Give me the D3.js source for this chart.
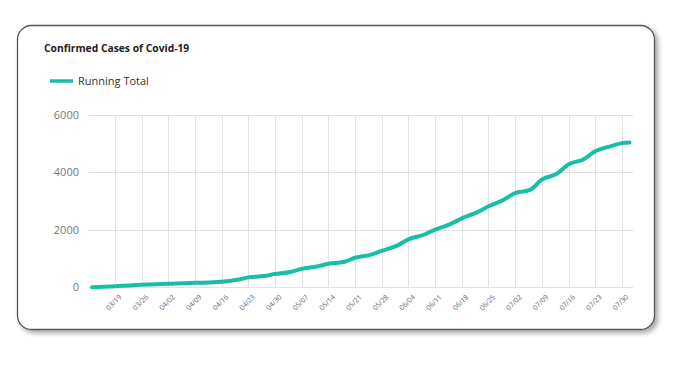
<!DOCTYPE html>
<html><head><meta charset="utf-8">
<script src="https://cdn.jsdelivr.net/npm/d3@7"></script>
<style>html,body{margin:0;padding:0;background:#fff;}svg{display:block;}</style>
</head><body>
<svg id="c" width="693" height="365"></svg>
<script>
const title = "Confirmed Cases of Covid-19";
const seriesName = "Running Total";
const dates = ["2020-03-13","2020-03-16","2020-03-19","2020-03-23","2020-03-26","2020-03-30","2020-04-02","2020-04-06","2020-04-09","2020-04-13","2020-04-16","2020-04-20","2020-04-23","2020-04-27","2020-04-30","2020-05-04","2020-05-07","2020-05-11","2020-05-14","2020-05-18","2020-05-21","2020-05-25","2020-05-28","2020-06-01","2020-06-04","2020-06-08","2020-06-11","2020-06-15","2020-06-18","2020-06-22","2020-06-25","2020-06-29","2020-07-02","2020-07-06","2020-07-09","2020-07-13","2020-07-16","2020-07-20","2020-07-23","2020-07-27","2020-07-30","2020-08-01"];
const totals = [5,20,40,65,85,105,125,140,155,170,190,260,345,390,460,530,640,725,820,880,1030,1130,1270,1450,1670,1830,2010,2200,2400,2610,2820,3050,3280,3400,3750,3960,4280,4460,4740,4910,5020,5040];
const xTickLabels = ["03/19","03/26","04/02","04/09","04/16","04/23","04/30","05/07","05/14","05/21","05/28","06/04","06/11","06/18","06/25","07/02","07/09","07/16","07/23","07/30"];
const yTicks = [0,2000,4000,6000];

const parse = d3.timeParse("%Y-%m-%d");
const data = dates.map((d,i)=>({date:parse(d), v:totals[i]}));
const tickDates = xTickLabels.map(s=>parse("2020-"+s.replace("/","-")));

const svg = d3.select("#c");
const defs = svg.append("defs");
const f = defs.append("filter").attr("id","sh").attr("x","-5%").attr("y","-5%").attr("width","115%").attr("height","120%");
f.append("feDropShadow").attr("dx",3).attr("dy",3).attr("stdDeviation",2.5).attr("flood-color","#000").attr("flood-opacity",0.35);

svg.append("rect").attr("x",17.5).attr("y",25.5).attr("width",637).attr("height",304).attr("rx",14)
  .attr("fill","#fff").attr("stroke","#555").attr("stroke-width",1.3).attr("filter","url(#sh)");

svg.append("text").attr("x",44).attr("y",52).text(title)
  .attr("font-family","'Open Sans', sans-serif").attr("font-weight","bold").attr("font-size",10.3).attr("fill","#222");

// legend
svg.append("line").attr("x1",50).attr("x2",73).attr("y1",81).attr("y2",81).attr("stroke","#17bfa6").attr("stroke-width",3.5);
svg.append("text").attr("x",78).attr("y",84.5).text(seriesName)
  .attr("font-family","'Open Sans', sans-serif").attr("font-size",11).attr("fill","#333");

const x = d3.scaleTime().domain([parse("2020-03-12"), parse("2020-08-02")]).range([88.3, 633.3]);
const y = d3.scaleLinear().domain([0,6000]).range([287.3,115]);

const g = svg.append("g");
g.selectAll(".hg").data(yTicks).join("line").attr("x1",88.3).attr("x2",633.3)
  .attr("y1",d=>Math.round(y(d))+0.5).attr("y2",d=>Math.round(y(d))+0.5).attr("stroke","#e2e2e2").attr("stroke-width",1);
g.selectAll(".vg").data(tickDates).join("line")
  .attr("x1",d=>Math.round(x(d))+0.5).attr("x2",d=>Math.round(x(d))+0.5).attr("y1",115).attr("y2",288)
  .attr("stroke","#e2e2e2").attr("stroke-width",1);

const yAxis = d3.axisLeft(y).tickValues(yTicks).tickSize(0).tickPadding(0).tickFormat(d3.format("d"));
const ya = svg.append("g").attr("transform","translate(79,0)").call(yAxis);
ya.select(".domain").remove();
ya.selectAll("text").attr("font-family","'Open Sans', sans-serif").attr("font-size",11).attr("fill","#777");

const xAxis = d3.axisBottom(x).tickValues(tickDates).tickSize(0).tickFormat((d,i)=>xTickLabels[i]);
const xa = svg.append("g").attr("transform","translate(2,293)").call(xAxis);
xa.select(".domain").remove();
xa.selectAll("text").attr("font-family","'Open Sans', sans-serif").attr("font-size",7).attr("fill","#666")
  .attr("text-anchor","end").attr("dy","0.35em").attr("dx",0).attr("y",4)
  .attr("transform","rotate(-45)");

const line = d3.line().x(d=>x(d.date)).y(d=>y(d.v)).curve(d3.curveMonotoneX);
svg.append("path").datum(data).attr("d",line).attr("fill","none").attr("stroke","#17bfa6")
  .attr("stroke-width",4).attr("stroke-linecap","round").attr("stroke-linejoin","round");
</script>
</body></html>
